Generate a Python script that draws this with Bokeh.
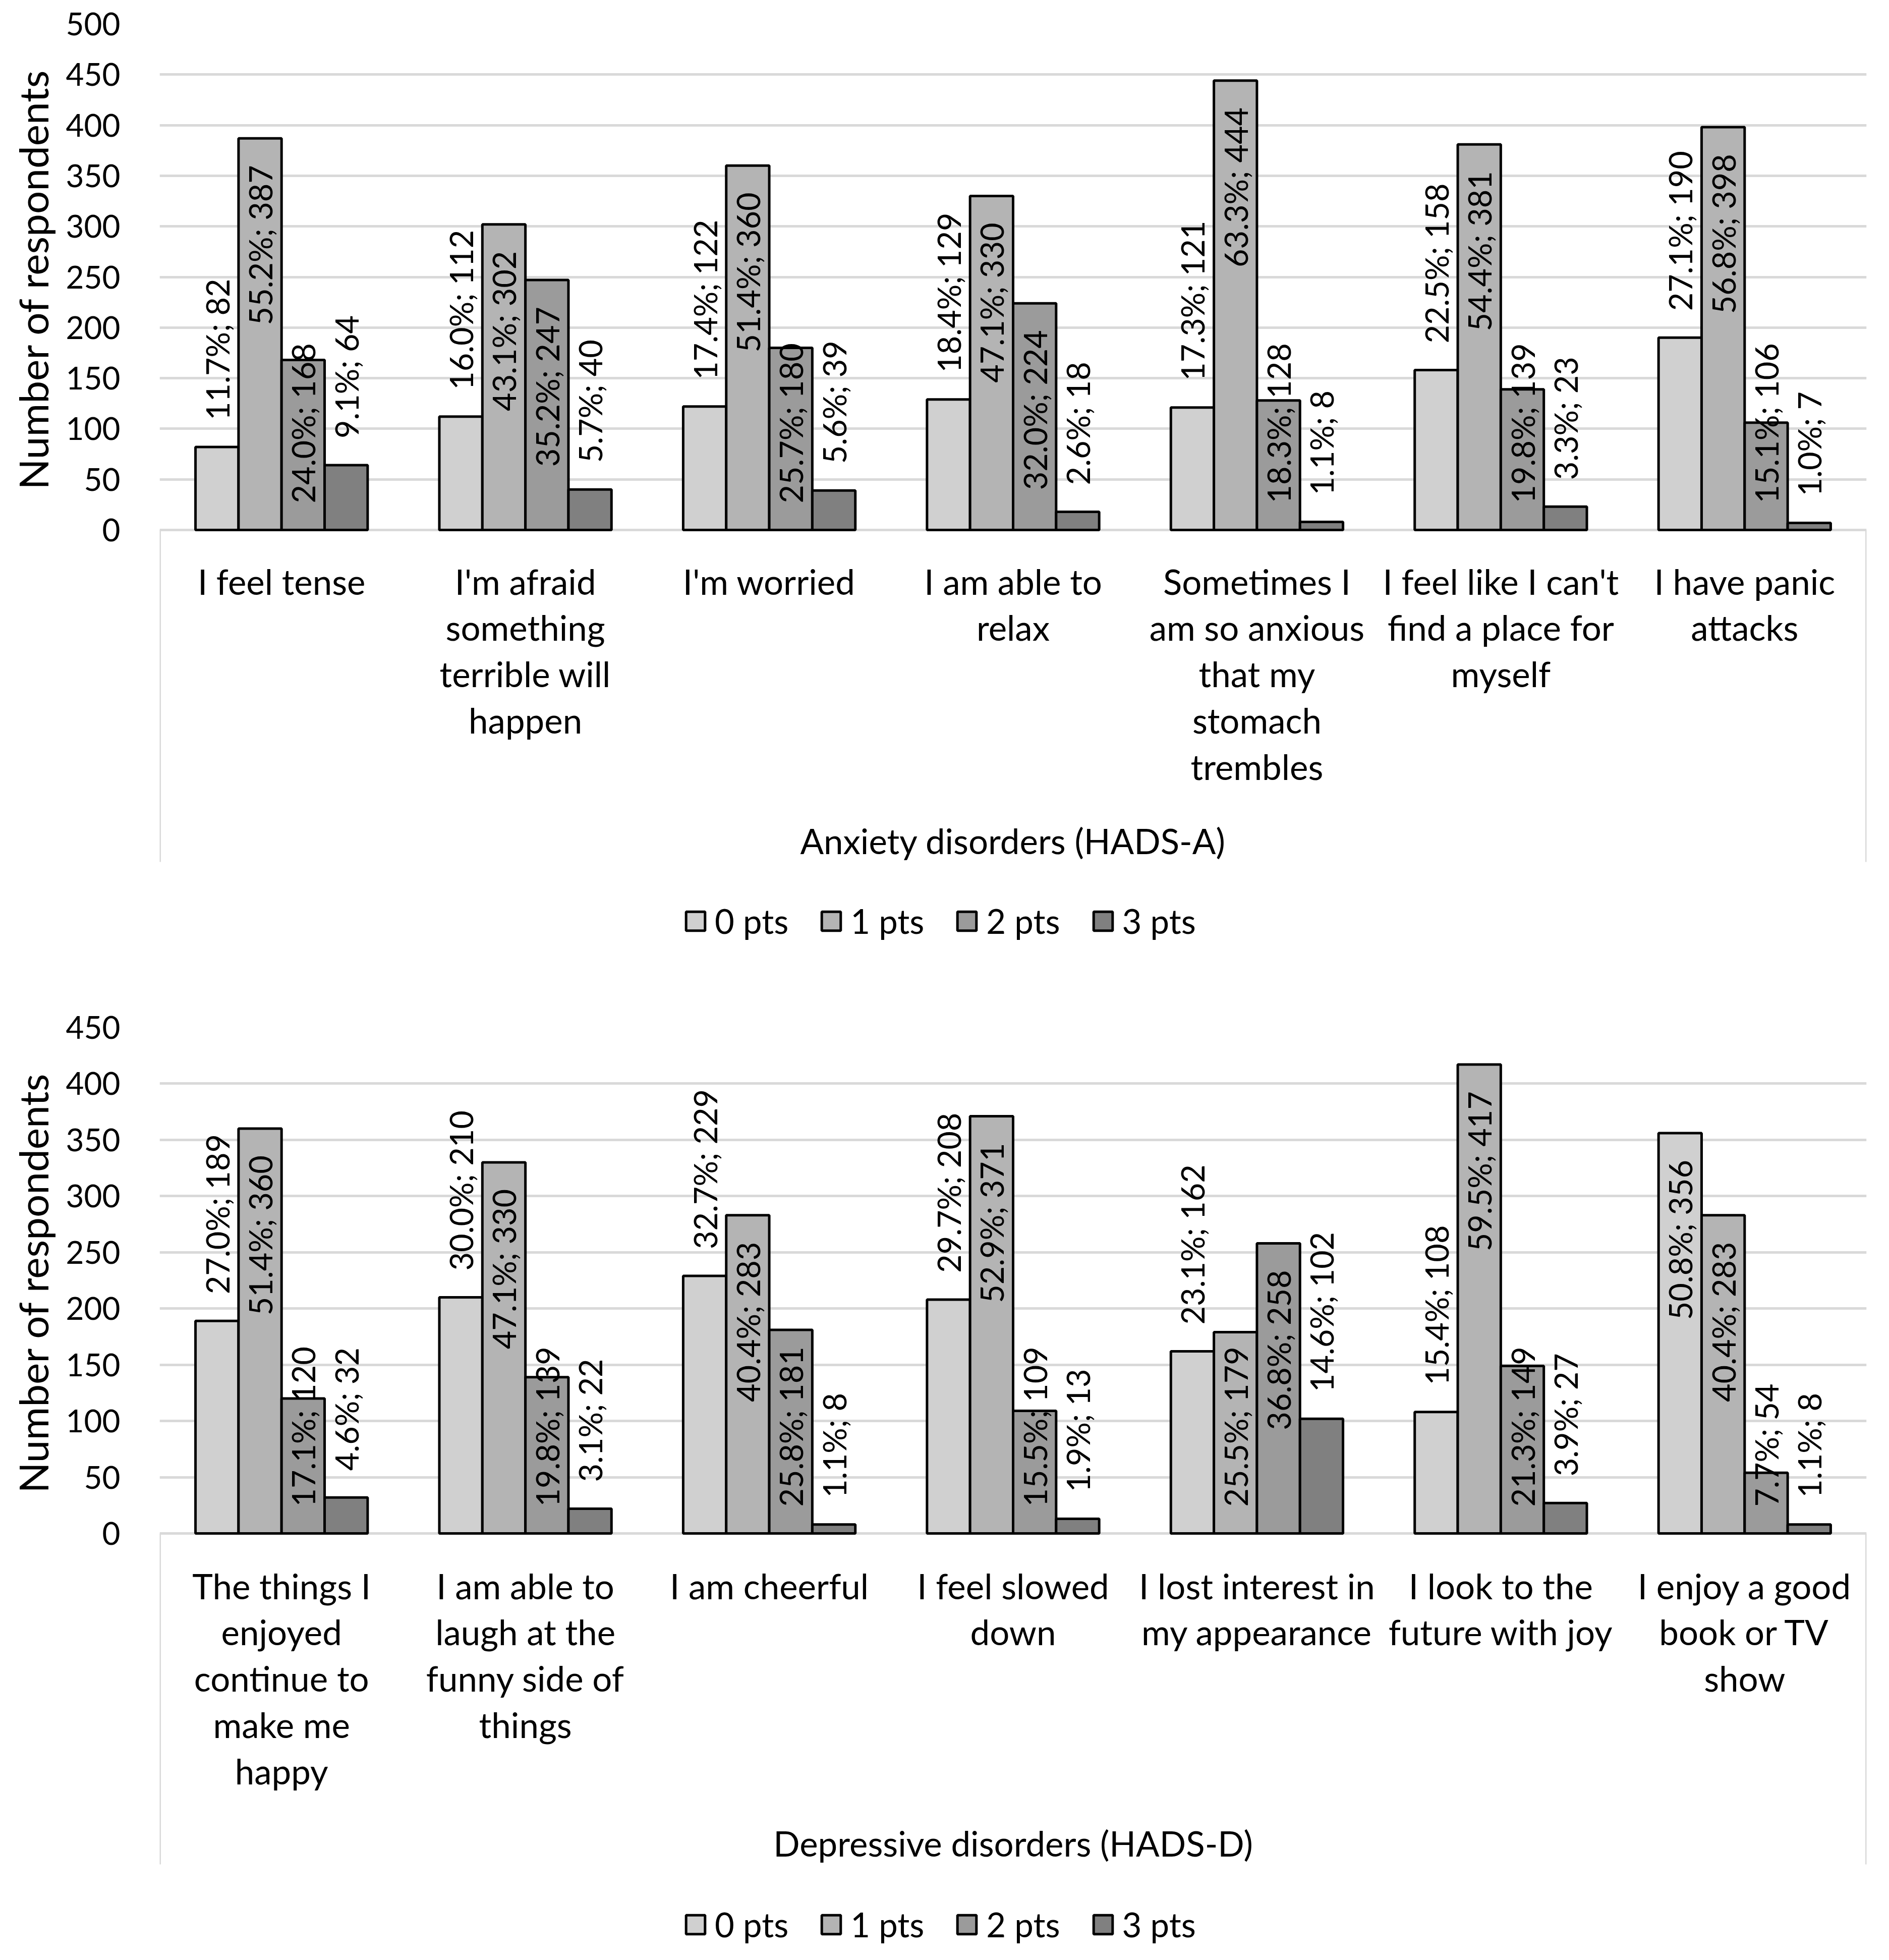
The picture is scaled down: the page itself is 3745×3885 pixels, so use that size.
import numpy as np
from bokeh.plotting import figure
from bokeh.models import (FactorRange, Range1d, ColumnDataSource, Legend, LegendItem,
                          FixedTicker, Title)
from bokeh.transform import dodge
from bokeh.layouts import column
from bokeh.embed import file_html
from bokeh.resources import INLINE
from bokeh.core.properties import value

# ---------------- data ----------------
series = ["0 pts", "1 pts", "2 pts", "3 pts"]
colors = ["#d0d0d0", "#b4b4b4", "#9b9b9b", "#808080"]

anx_group = "Anxiety disorders (HADS-A)"
anx_items = [
    "I feel tense",
    "I'm afraid\nsomething\nterrible will\nhappen",
    "I'm worried",
    "I am able to\nrelax",
    "Sometimes I\nam so anxious\nthat my\nstomach\ntrembles",
    "I feel like I can't\nfind a place for\nmyself",
    "I have panic\nattacks",
]
anx_n0 = [82, 112, 122, 129, 121, 158, 190]
anx_n1 = [387, 302, 360, 330, 444, 381, 398]
anx_n2 = [168, 247, 180, 224, 128, 139, 106]
anx_n3 = [64, 40, 39, 18, 8, 23, 7]
anx_p0 = [11.7, 16.0, 17.4, 18.4, 17.3, 22.5, 27.1]
anx_p1 = [55.2, 43.1, 51.4, 47.1, 63.3, 54.4, 56.8]
anx_p2 = [24.0, 35.2, 25.7, 32.0, 18.3, 19.8, 15.1]
anx_p3 = [9.1, 5.7, 5.6, 2.6, 1.1, 3.3, 1.0]
# label placement per category (series 0..3): o = outside end, e = inside end, b = inside base
anx_label_pos = ["oebo", "oeeo", "oebo", "oeeo", "oebo", "oebo", "oebo"]

dep_group = "Depressive disorders (HADS-D)"
dep_items = [
    "The things I\nenjoyed\ncontinue to\nmake me\nhappy",
    "I am able to\nlaugh at the\nfunny side of\nthings",
    "I am cheerful",
    "I feel slowed\ndown",
    "I lost interest in\nmy appearance",
    "I look to the\nfuture with joy",
    "I enjoy a good\nbook or TV\nshow",
]
dep_n0 = [189, 210, 229, 208, 162, 108, 356]
dep_n1 = [360, 330, 283, 371, 179, 417, 283]
dep_n2 = [120, 139, 181, 109, 258, 149, 54]
dep_n3 = [32, 22, 8, 13, 102, 27, 8]
dep_p0 = [27.0, 30.0, 32.7, 29.7, 23.1, 15.4, 50.8]
dep_p1 = [51.4, 47.1, 40.4, 52.9, 25.5, 59.5, 40.4]
dep_p2 = [17.1, 19.8, 25.8, 15.5, 36.8, 21.3, 7.7]
dep_p3 = [4.6, 3.1, 1.1, 1.9, 14.6, 3.9, 1.1]
dep_label_pos = ["oebo", "oebo", "oebo", "oebo", "obeo", "oebo", "eebo"]

y_title = "Number of respondents"

# ---------------- style ----------------
W = 3729
FONT = "Lato"
BAR_W = 0.1765
GRID = "#d9d9d9"
DATA_H = 1003          # pixel height of the 0..ymax value band
CAT_FS = "69px"


def make_chart(group, items, counts, pcts, pos, ymax, height, b_top,
               cat_drop, group_drop, legend_drop, box_drop):
    b_bottom = 12
    frame_total = height - b_top - b_bottom
    ppu = DATA_H / ymax                        # pixels per data unit
    ymin = -(frame_total - DATA_H) / ppu       # room under the axis for labels
    xr = FactorRange(*items, range_padding=0, factor_padding=0)
    p = figure(x_range=xr, y_range=Range1d(ymin, ymax), width=W, height=height,
               output_backend="svg", toolbar_location=None,
               min_border_left=309, min_border_right=29,
               min_border_top=b_top, min_border_bottom=b_bottom)
    pad = 53.0 / ppu
    offsets = [(k - 1.5) * BAR_W for k in range(4)]
    n = len(items)

    # light frame of the category area (left and right edges)
    p.segment(x0=[0, n], y0=[0, 0], x1=[0, n], y1=[-box_drop / ppu] * 2,
              line_color=GRID, line_width=5)

    rends = []
    for k in range(4):
        src = ColumnDataSource(dict(x=items, top=counts[k]))
        r = p.vbar(x=dodge("x", offsets[k], range=xr), top="top", width=BAR_W,
                   source=src, fill_color=colors[k], line_color="black", line_width=5)
        rends.append(r)

    for k in range(4):
        groups = {"left": dict(x=[], y=[], t=[]), "right": dict(x=[], y=[], t=[])}
        for i in range(n):
            v = counts[k][i]
            m = pos[i][k]
            txt = f"{pcts[k][i]:.1f}%; {v}"
            if m == "o":
                g, y = "left", v + pad
            elif m == "e":
                g, y = "right", v - pad
            else:
                g, y = "left", pad
            groups[g]["x"].append(items[i])
            groups[g]["y"].append(y)
            groups[g]["t"].append(txt)
        for al, d in groups.items():
            if not d["x"]:
                continue
            p.text(x=dodge("x", offsets[k], range=xr), y="y", text="t",
                   source=ColumnDataSource(d), angle=np.pi / 2,
                   text_align=al, text_baseline="middle",
                   text_font=value(FONT), text_font_size="63px", text_color="black")

    # category labels (multi-line) and the group label under the axis
    p.text(x=items, y=[-cat_drop / ppu] * n, text=items,
           text_align="center", text_baseline="top", text_line_height=1.106,
           text_font=value(FONT), text_font_size=CAT_FS, text_color="black")
    p.text(x=[n / 2], y=[-group_drop / ppu], text=[group],
           text_align="center", text_baseline="middle",
           text_font=value(FONT), text_font_size=CAT_FS, text_color="black")

    # y axis
    ya = p.yaxis[0]
    ya.ticker = FixedTicker(ticks=list(range(0, ymax + 1, 50)))
    ya.major_label_text_font = FONT
    ya.major_label_text_font_size = "62px"
    ya.major_label_text_color = "black"
    ya.major_label_standoff = 72
    ya.axis_line_color = None
    ya.major_tick_line_color = None
    ya.minor_tick_line_color = None
    p.add_layout(Title(text=y_title, align="right", offset=89, vertical_align="bottom",
                       standoff=29, text_font=FONT, text_font_size="80px",
                       text_font_style="normal", text_color="black"), "left")

    p.xaxis.visible = False
    p.ygrid.grid_line_color = GRID
    p.ygrid.grid_line_width = 5
    p.xgrid.grid_line_color = None
    p.outline_line_color = None

    legend = Legend(items=[LegendItem(label=s, renderers=[r]) for s, r in zip(series, rends)],
                    orientation="horizontal",
                    location=(1039, (frame_total - DATA_H) - legend_drop - 40),
                    label_text_font=FONT, label_text_font_size="67px", label_text_color="black",
                    glyph_width=47, glyph_height=47, label_standoff=15, spacing=61,
                    border_line_color=None, background_fill_alpha=0, padding=0, margin=0)
    p.add_layout(legend, "center")
    return p


p1 = make_chart(anx_group, anx_items, [anx_n0, anx_n1, anx_n2, anx_n3],
                [anx_p0, anx_p1, anx_p2, anx_p3], anx_label_pos, 500, 1935, 47,
                60, 616, 775, 658)
p2 = make_chart(dep_group, dep_items, [dep_n0, dep_n1, dep_n2, dep_n3],
                [dep_p0, dep_p1, dep_p2, dep_p3], dep_label_pos, 450, 1934, 101,
                62, 614, 775, 656)

layout = column(p1, p2, spacing=0)
open("out.html", "w").write(file_html(layout, INLINE))
